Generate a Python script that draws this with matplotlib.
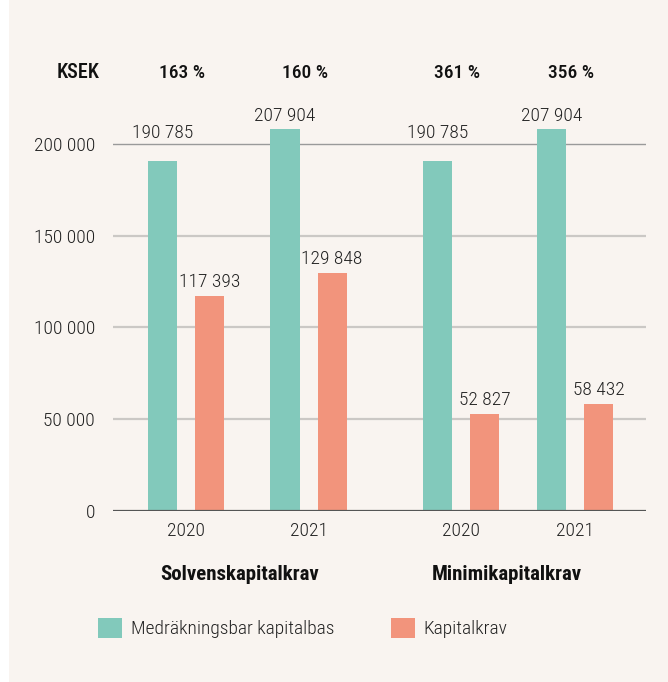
import matplotlib.pyplot as plt
import matplotlib.transforms as mtransforms
from matplotlib.patches import Patch, Rectangle

# data
groups = ["Solvenskapitalkrav", "Minimikapitalkrav"]
years = ["2020", "2021", "2020", "2021"]
kapitalbas = [190785, 207904, 190785, 207904]
kapitalkrav = [117393, 129848, 52827, 58432]
ratios = ["163 %", "160 %", "361 %", "356 %"]
series_names = ["Medräkningsbar kapitalbas", "Kapitalkrav"]

GREEN = "#82C9BB"
SALMON = "#F2947C"
BG = "#F9F4F0"
TXT = "#222222"

plt.rcParams["font.family"] = ["Roboto Condensed", "Liberation Sans", "DejaVu Sans"]
plt.rcParams["font.weight"] = 300

fig = plt.figure(figsize=(6.68, 6.82), dpi=100, facecolor="white")
fig.patches.append(Rectangle((9 / 668, 0), 1, 1, transform=fig.transFigure,
                             facecolor=BG, edgecolor="none", zorder=-10))

ax = fig.add_axes([113 / 668, 1 - 511 / 682, 533 / 668, 421 / 682])
ax.set_facecolor("none")

# group centres: two groups of two years, wider gap between groups
xpos = [0.0, 1.0, 2.245, 3.176]
off = 0.192
w = 0.237

ax.bar([x - off for x in xpos], kapitalbas, width=w, color=GREEN, zorder=3)
ax.bar([x + off for x in xpos], kapitalkrav, width=w, color=SALMON, zorder=3)

ax.set_xlim(-0.596, 3.755)
ax.set_ylim(0, 229400)

yt = [0, 50000, 100000, 150000, 200000]
ax.set_yticks(yt)
ax.set_yticklabels([f"{v:,}".replace(",", " ") for v in yt], fontsize=14, color=TXT)
ax.tick_params(axis="y", length=0, pad=13)
for v in yt[1:]:
    if v == 200000:
        ax.axhline(v, color="#9a9a9a", lw=1.0, zorder=1)
    else:
        ax.axhline(v, color="#cbc8c5", lw=1.6, zorder=1)
ax.axhline(0, color="#555555", lw=1.6, zorder=4)

ax.set_xticks(xpos)
ax.set_xticklabels(years, fontsize=14, color=TXT)
ax.tick_params(axis="x", length=0, pad=8)
for s in ax.spines.values():
    s.set_visible(False)


def label(x, v):
    txt = f"{v:,}".replace(",", " ")
    dy = 10
    # lift labels that would sit on a gridline
    for g in yt[1:]:
        if 0 < g - v < 12000:
            dy = 20
    ax.annotate(txt, (x, v), xytext=(0, dy), textcoords="offset points",
                ha="center", va="center", fontsize=14, color=TXT)


for x, a, b in zip(xpos, kapitalbas, kapitalkrav):
    label(x - off, a)
    label(x + off, b)

# header row
trans = mtransforms.blended_transform_factory(ax.transData, fig.transFigure)
fig.text(78 / 668, 1 - 73 / 682, "KSEK", ha="center", va="center",
         fontsize=14.5, fontweight="medium", color="#111111")
for x, r in zip(xpos, ratios):
    fig.text(x - 0.03, 1 - 73 / 682, r, transform=trans, ha="center", va="center",
             fontsize=14, fontweight="medium", color="#111111")

# group titles
fig.text((xpos[0] + xpos[1]) / 2 - 0.065, 1 - 575 / 682, groups[0], transform=trans,
         ha="center", va="center", fontsize=15, fontweight="bold", color="#111111")
fig.text((xpos[2] + xpos[3]) / 2 - 0.09, 1 - 575 / 682, groups[1], transform=trans,
         ha="center", va="center", fontsize=15, fontweight="bold", color="#111111")

handles = [Patch(facecolor=GREEN, edgecolor="none"), Patch(facecolor=SALMON, edgecolor="none")]
fig.legend(handles, series_names, loc="center left", bbox_to_anchor=(98 / 668, 1 - 628 / 682),
           ncol=2, frameon=False, fontsize=14, handlelength=1.24, handleheight=1.24,
           handletextpad=0.45, columnspacing=2.9, labelcolor=TXT, borderpad=0, borderaxespad=0)

fig.savefig("out.png", dpi=100, facecolor="white")
